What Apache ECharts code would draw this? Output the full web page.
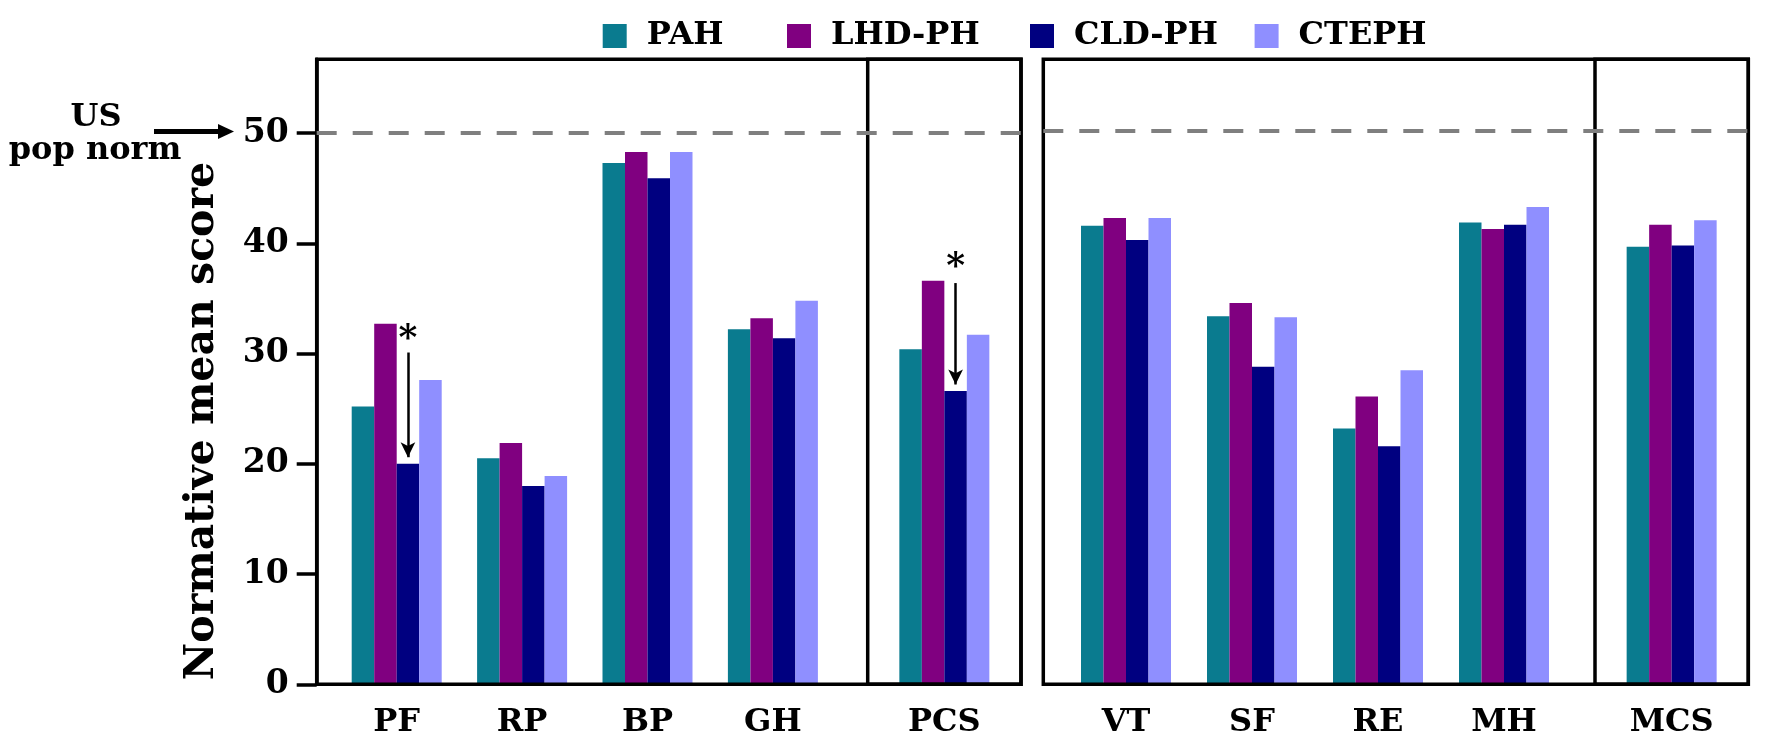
<!DOCTYPE html>
<html>
<head>
<meta charset="utf-8">
<script src="https://cdn.jsdelivr.net/npm/echarts@6/dist/echarts.min.js"></script>
<style>
html,body{margin:0;padding:0;background:#fff;}
#chart{width:1772px;height:755px;}
</style>
</head>
<body>
<div id="chart"></div>
<script>
// ---- data ----
const categories = ['PF','RP','BP','GH','PCS','VT','SF','RE','MH','MCS'];
const seriesNames = ['PAH','LHD-PH','CLD-PH','CTEPH'];
const pah    = [25.2, 20.5, 47.3, 32.2, 30.4, 41.6, 33.4, 23.2, 41.9, 39.7];
const lhdph  = [32.7, 21.9, 48.3, 33.2, 36.6, 42.3, 34.6, 26.1, 41.3, 41.7];
const cldph  = [20.0, 18.0, 45.9, 31.4, 26.6, 40.3, 28.8, 21.6, 41.7, 39.8];
const cteph  = [27.6, 18.9, 48.3, 34.8, 31.7, 42.3, 33.3, 28.5, 43.3, 42.1];
const yTicks = [0, 10, 20, 30, 40, 50];
const normLeft = 50;
const normRight = 50.2;
// significance arrows (CLD-PH): category, arrow start, arrow end, star level
const sigArrows = [
  {cat: 'PF',  from: 30.1, to: 20.6, star: 31.3},
  {cat: 'PCS', from: 36.4, to: 27.2, star: 37.8}
];

// ---- layout/styles ----
const FONT = 'DejaVu Serif';
const colors = ['#0A7B8F', '#800080', '#000080', '#8F8FFF'];
const YMAX = 56.7;
const TOP = 59.3, H = 625;
const BW = 3.5;
const allValues = [pah, lhdph, cldph, cteph];

// panels: index ranges into categories, grid index
const panels = [
  {from: 0, to: 4, grid: 1},
  {from: 4, to: 5, grid: 2},
  {from: 5, to: 9, grid: 4},
  {from: 9, to: 10, grid: 5}
];

const grids = [
  {left: 316.7, top: TOP, width: 704.3, height: H, show: true, borderColor: '#000', borderWidth: BW, z: 5},
  {left: 334, top: TOP, width: 501.6, height: H},
  {left: 867.7, top: TOP, width: 153.3, height: H, show: true, borderColor: '#000', borderWidth: BW, z: 5},
  {left: 1043.3, top: TOP, width: 705, height: H, show: true, borderColor: '#000', borderWidth: BW, z: 5},
  {left: 1063, top: TOP, width: 504, height: H},
  {left: 1595, top: TOP, width: 153.3, height: H, show: true, borderColor: '#000', borderWidth: BW, z: 5}
];

const labelStyle = {fontFamily: FONT, fontWeight: 'bold', fontSize: 32, color: '#000'};

const xAxes = [];
const yAxes = [];
for (let g = 0; g < 6; g++) {
  const p = panels.find(pp => pp.grid === g);
  if (p) {
    xAxes.push({gridIndex: g, type: 'category', data: categories.slice(p.from, p.to),
      axisLine: {show: false}, axisTick: {show: false},
      axisLabel: Object.assign({margin: 22}, labelStyle)});
  } else {
    xAxes.push({gridIndex: g, type: 'category', data: [''], show: false});
  }
  if (g === 0) {
    yAxes.push({gridIndex: 0, type: 'value', min: 0, max: YMAX, interval: 10,
      axisLine: {show: true, lineStyle: {color: '#000', width: BW}},
      axisTick: {show: true, length: 20, lineStyle: {color: '#000', width: BW}, customValues: yTicks},
      axisLabel: Object.assign({margin: 28, customValues: yTicks}, labelStyle, {fontSize: 33}),
      splitLine: {show: false}});
  } else {
    yAxes.push({gridIndex: g, type: 'value', min: 0, max: YMAX, show: false, splitLine: {show: false}});
  }
}

const series = [];
// dashed norm lines on the frame grids
[[0, normLeft], [3, normRight]].forEach(([g, v]) => {
  series.push({type: 'line', name: '_norm' + g, xAxisIndex: g, yAxisIndex: g, data: [],
    markLine: {silent: true, symbol: ['none', 'none'], label: {show: false},
      lineStyle: {type: [20, 16], color: '#7F7F7F', width: 4}, data: [{yAxis: v}]}});
});

panels.forEach(p => {
  seriesNames.forEach((name, si) => {
    const s = {
      type: 'bar', name: name, xAxisIndex: p.grid, yAxisIndex: p.grid,
      data: allValues[si].slice(p.from, p.to),
      barWidth: 22.5, barGap: '0%',
      itemStyle: {color: colors[si]}
    };
    if (si === 2) {
      const cats = categories.slice(p.from, p.to);
      const sig = sigArrows.filter(a => cats.includes(a.cat));
      if (sig.length) {
        s.markLine = {silent: true, symbol: ['none', 'arrow'], symbolSize: [11, 15],
          label: {show: false}, lineStyle: {type: 'solid', color: '#000', width: 2.5},
          data: sig.map(a => [{coord: [a.cat, a.from]}, {coord: [a.cat, a.to]}])};
        s.markPoint = {silent: true, symbol: 'circle', symbolSize: 0,
          label: {show: true, position: 'inside', formatter: '*', fontFamily: FONT, fontWeight: 'bold', fontSize: 36, color: '#000'},
          data: sig.map(a => ({coord: [a.cat, a.star]}))};
      }
    }
    series.push(s);
  });
});

const legendLefts = [597.7, 782, 1025, 1249.6];
const legends = seriesNames.map((n, i) => ({
  data: [n], left: legendLefts[i], top: 15, itemWidth: 24, itemHeight: 24, icon: 'rect',
  selectedMode: false,
  textStyle: {fontFamily: FONT, fontWeight: 'bold', fontSize: 32, color: '#000', padding: [0, 0, 0, 15]}
}));

const chart = echarts.init(document.getElementById('chart'));
chart.setOption({
  animation: false,
  backgroundColor: '#fff',
  grid: grids,
  xAxis: xAxes,
  yAxis: yAxes,
  legend: legends,
  series: series,
  graphic: [
    {type: 'text', x: 202, y: 421, rotation: Math.PI / 2,
      style: {text: 'Normative mean score', font: 'bold 41px "DejaVu Serif"', fill: '#000', align: 'center', verticalAlign: 'middle'}},
    {type: 'text', x: 96, y: 118,
      style: {text: 'US', font: 'bold 32px "DejaVu Serif"', fill: '#000', align: 'center', verticalAlign: 'middle'}},
    {type: 'text', x: 95, y: 151,
      style: {text: 'pop norm', font: 'bold 32px "DejaVu Serif"', fill: '#000', align: 'center', verticalAlign: 'middle'}},
    {type: 'line', shape: {x1: 154, y1: 131.5, x2: 220, y2: 131.5}, style: {stroke: '#000', lineWidth: 5}},
    {type: 'polygon', shape: {points: [[218, 124], [234, 131.5], [218, 139]]}, style: {fill: '#000'}}
  ]
});
</script>
</body>
</html>
